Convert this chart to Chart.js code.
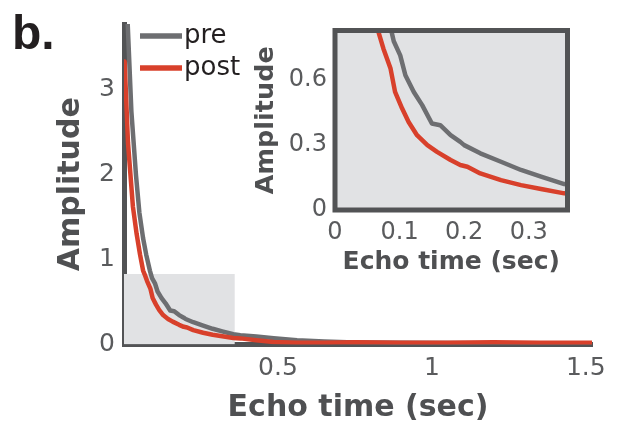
<!DOCTYPE html>
<html><head><meta charset="utf-8">
<script src="https://cdn.jsdelivr.net/npm/chart.js@4.4.1/dist/chart.umd.min.js"></script>
<style>
html,body{margin:0;padding:0;background:#fff;}
#wrap{position:relative;width:618px;height:433px;overflow:hidden;}
#main{position:absolute;left:0;top:0;}
#inset{position:absolute;left:230px;top:0;}
#panel{position:absolute;left:12px;top:9px;font:bold 48px "Liberation Sans",Arial,sans-serif;line-height:48px;color:#231f20;}
</style></head><body>
<div id="wrap">
<canvas id="main" width="618" height="433"></canvas>
<canvas id="inset" width="388" height="290"></canvas>
<div id="panel">b.</div>
</div>
<script>
const seriesNames = ['pre', 'post'];
const preTime = [0.012,0.024,0.039,0.050,0.062,0.072,0.084,0.091,0.101,0.109,0.122,0.135,0.150,0.163,0.179,0.194,0.200,0.225,0.257,0.288,0.319,0.355,0.378,0.430,0.486,0.562,0.650,0.750,0.900,1.050,1.200,1.350,1.520];
const preAmp  = [3.77,2.74,1.99,1.55,1.25,1.06,0.87,0.78,0.715,0.623,0.546,0.485,0.400,0.392,0.346,0.315,0.300,0.262,0.223,0.185,0.154,0.120,0.110,0.095,0.075,0.050,0.035,0.025,0.020,0.018,0.015,0.015,0.012];
const postTime = [0.002,0.013,0.029,0.041,0.052,0.062,0.067,0.075,0.086,0.093,0.104,0.114,0.127,0.143,0.158,0.179,0.194,0.205,0.225,0.257,0.288,0.319,0.355,0.378,0.430,0.486,0.560,0.650,0.750,0.900,1.050,1.200,1.350,1.520];
const postAmp  = [3.33,2.37,1.62,1.30,1.06,0.87,0.826,0.746,0.654,0.546,0.469,0.407,0.346,0.300,0.269,0.231,0.208,0.200,0.169,0.138,0.115,0.097,0.077,0.072,0.050,0.030,0.022,0.020,0.025,0.020,0.022,0.025,0.020,0.020];
const mainTimeRange = [0, 1.52];
const mainAmpRange = [0, 3.77];
const mainXTicks = [0.5, 1, 1.5];
const mainYTicks = [0, 1, 2, 3];
const zoomTime = [0, 0.36];
const zoomAmp = [0, 0.83];
const insetXTicks = [0, 0.1, 0.2, 0.3];
const insetYTicks = [0, 0.3, 0.6];
const xTitle = 'Echo time (sec)';
const yTitle = 'Amplitude';

const PRE_COLOR = '#6d6e71';
const POST_COLOR = '#d8402b';
const AXIS_COLOR = '#525355';
const TICK_COLOR = '#5a5b5d';
const TITLE_COLOR = '#4f5052';
const BOX_BG = '#e1e2e4';
const FONT = 'DejaVu Sans';

const prePts = preTime.map((t, i) => ({x: t, y: preAmp[i]}));
const postPts = postTime.map((t, i) => ({x: t, y: postAmp[i]}));

function lineDs(label, pts, color, order) {
  return {label, data: pts, borderColor: color, backgroundColor: color, borderWidth: 4.5,
    pointRadius: 0, tension: 0, fill: false, borderJoinStyle: 'round', borderCapStyle: 'round', order};
}
const fixTicks = arr => scale => { scale.ticks = arr.map(v => ({value: v})); };

const legendPlugin = {
  id: 'legendLines',
  afterDatasetsDraw(chart) {
    const ctx = chart.ctx;
    const ys = [36, 68];
    ctx.save();
    seriesNames.forEach((name, i) => {
      const ds = chart.data.datasets.find(d => d.label === name);
      ctx.strokeStyle = ds.borderColor;
      ctx.lineWidth = 5.5;
      ctx.beginPath(); ctx.moveTo(140, ys[i]); ctx.lineTo(182, ys[i]); ctx.stroke();
      ctx.fillStyle = '#231f20';
      ctx.font = '26px "' + FONT + '"';
      ctx.textBaseline = 'middle';
      ctx.textAlign = 'left';
      ctx.fillText(name, 184, ys[i]);
    });
    ctx.restore();
  }
};

new Chart(document.getElementById('main'), {
  type: 'line',
  data: {datasets: [
    {label: 'zoom', data: [{x: zoomTime[0], y: zoomAmp[1]}, {x: zoomTime[1], y: zoomAmp[1]}],
     fill: 'origin', backgroundColor: BOX_BG, borderWidth: 0, pointRadius: 0, order: 3},
    lineDs(seriesNames[0], prePts, PRE_COLOR, 2),
    lineDs(seriesNames[1], postPts, POST_COLOR, 1)
  ]},
  options: {
    responsive: false, animation: false,
    layout: {padding: {left: 0, right: 26, top: 8, bottom: 0}},
    plugins: {legend: {display: false}, tooltip: {enabled: false}},
    scales: {
      x: {type: 'linear', min: mainTimeRange[0], max: mainTimeRange[1],
        grid: {display: false, drawTicks: false},
        border: {display: true, width: 5, color: AXIS_COLOR},
        afterBuildTicks: fixTicks(mainXTicks),
        afterFit: s => { s.height = 88.5; },
        ticks: {padding: 9, autoSkip: false, maxRotation: 0, color: TICK_COLOR, font: {family: FONT, size: 25}, callback: v => String(v)},
        title: {display: true, text: xTitle, color: TITLE_COLOR, font: {family: FONT, size: 30, weight: 'bold'}, padding: {top: 0, bottom: 7}}
      },
      y: {type: 'linear', min: mainAmpRange[0], max: mainAmpRange[1],
        grid: {display: false, drawTicks: false},
        border: {display: true, width: 5, color: AXIS_COLOR},
        afterBuildTicks: fixTicks(mainYTicks),
        afterFit: s => { s.width = 124; },
        ticks: {padding: 9, autoSkip: false, color: TICK_COLOR, font: {family: FONT, size: 25}, callback: v => String(v)},
        title: {display: true, text: yTitle, color: TITLE_COLOR, font: {family: FONT, size: 30, weight: 'bold'}, padding: {top: 53, bottom: 0}}
      }
    }
  },
  plugins: [legendPlugin]
});

const insetFrame = {
  id: 'insetFrame',
  beforeDatasetsDraw(chart) {
    const {ctx, chartArea: a} = chart;
    ctx.save(); ctx.fillStyle = BOX_BG; ctx.fillRect(a.left, a.top, a.right - a.left, a.bottom - a.top); ctx.restore();
  },
  afterDatasetsDraw(chart) {
    const {ctx, chartArea: a} = chart;
    ctx.save(); ctx.strokeStyle = AXIS_COLOR; ctx.lineWidth = 5;
    ctx.strokeRect(a.left, a.top, a.right - a.left, a.bottom - a.top); ctx.restore();
  }
};

new Chart(document.getElementById('inset'), {
  type: 'line',
  data: {datasets: [
    lineDs(seriesNames[0], prePts, PRE_COLOR, 2),
    lineDs(seriesNames[1], postPts, POST_COLOR, 1)
  ]},
  options: {
    responsive: false, animation: false,
    layout: {padding: {left: 0, right: 50.5, top: 30.5, bottom: 0}},
    plugins: {legend: {display: false}, tooltip: {enabled: false}},
    scales: {
      x: {type: 'linear', min: zoomTime[0], max: zoomTime[1],
        grid: {display: false, drawTicks: false},
        border: {display: false},
        afterBuildTicks: fixTicks(insetXTicks),
        afterFit: s => { s.height = 80; },
        ticks: {padding: 8, autoSkip: false, maxRotation: 0, color: TICK_COLOR, font: {family: FONT, size: 24}, callback: v => String(v)},
        title: {display: true, text: xTitle, color: TITLE_COLOR, font: {family: FONT, size: 25, weight: 'bold'}, padding: {top: 0, bottom: 13}}
      },
      y: {type: 'linear', min: zoomAmp[0], max: zoomAmp[1],
        grid: {display: false, drawTicks: false},
        border: {display: false},
        afterBuildTicks: fixTicks(insetYTicks),
        afterFit: s => { s.width = 105; },
        ticks: {padding: 8, autoSkip: false, color: TICK_COLOR, font: {family: FONT, size: 24}, callback: v => String(v)},
        title: {display: true, text: yTitle, color: TITLE_COLOR, font: {family: FONT, size: 25.5, weight: 'bold'}, padding: {top: 21, bottom: 0}}
      }
    }
  },
  plugins: [insetFrame]
});
</script>
</body></html>
